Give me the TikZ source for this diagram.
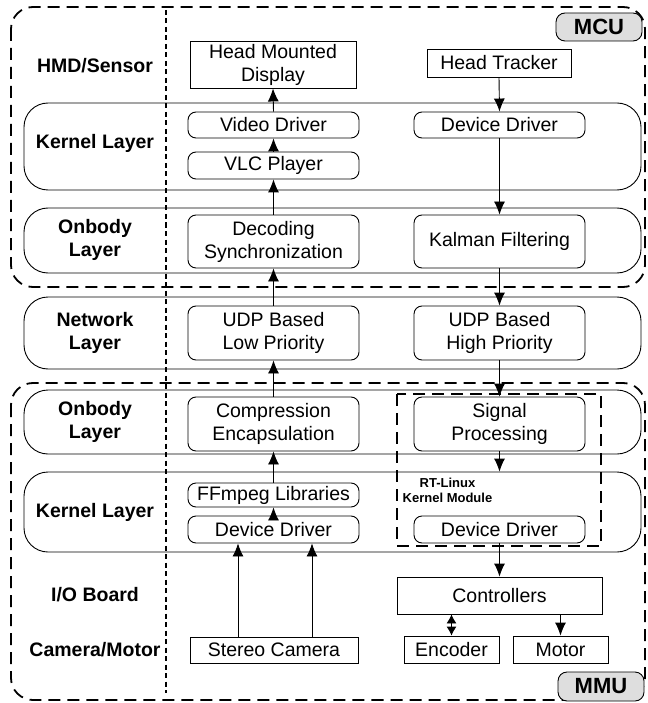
\documentclass[tikz,border=0pt]{standalone}
\usepackage{fontspec}
\setmainfont{Liberation Sans}
\usetikzlibrary{arrows.meta}
\begin{document}
\begin{tikzpicture}[x=1pt,y=-1pt,
  every node/.style={font=\fontsize{19.5}{23}\selectfont, align=center, inner sep=0pt},
  sbox/.style={draw, line width=0.9pt, minimum width=#1},
  rbox/.style={draw, line width=0.9pt, rounded corners=8pt, minimum width=#1},
  layer/.style={draw, line width=0.9pt, rounded corners=24pt, minimum width=617pt},
  lbl/.style={font=\fontsize{19.5}{23}\selectfont\bfseries},
  tag/.style={draw, line width=0.9pt, rounded corners=9pt, fill=black!13, minimum width=86pt, font=\fontsize{22}{24}\selectfont\bfseries},
  outer/.style={draw, line width=1.8pt, dash pattern=on 12pt off 7pt, rounded corners=22pt},
  arr/.style={line width=0.9pt, -{Latex[length=13pt,width=11pt]}},
  darr/.style={line width=0.9pt, {Latex[length=9pt,width=10pt]}-{Latex[length=9pt,width=10pt]}}
]
\useasboundingbox (0,0) rectangle (647,703);

% outer dashed regions
\draw[outer] (11,7) rectangle (645,287);
\draw[outer] (11,383) rectangle (645,700);
% vertical divider
\draw[line width=1.3pt, dash pattern=on 5pt off 3.5pt] (166,10) -- (166,693);

% layer boxes
\node[layer, minimum height=87pt] (kern1) at (332.5,146.5) {};
\node[layer, minimum height=65pt] (onb1) at (332.5,240.5) {};
\node[layer, minimum height=72pt] (net) at (332.5,333) {};
\node[layer, minimum height=64pt] (onb2) at (332.5,422) {};
\node[layer, minimum height=80pt] (kern2) at (332.5,512) {};

% RT-Linux dashed box
\draw[line width=1.8pt, dash pattern=on 12pt off 7pt] (397,394) rectangle (601,546);
\node[font=\fontsize{13}{15}\selectfont\bfseries] (rtl) at (447.5,490.5) {RT-Linux\\Kernel Module};

% tags
\node[tag, minimum height=28pt] (mcu) at (599,27) {MCU};
\node[tag, minimum height=29pt] (mmu) at (601,686.5) {MMU};

% left labels
\node[lbl] (l1) at (95,66) {HMD/Sensor};
\node[lbl] (l2) at (95,143) {Kernel Layer};
\node[lbl] (l3) at (95,240) {Onbody\\Layer};
\node[lbl] (l4) at (95,333) {Network\\Layer};
\node[lbl] (l5) at (95,422) {Onbody\\Layer};
\node[lbl] (l6) at (95,512) {Kernel Layer};
\node[lbl] (l7) at (95,595) {I/O Board};
\node[lbl] (l8) at (95,650) {Camera/Motor};

% component boxes
\node[sbox=166pt, minimum height=47pt] (hmd) at (273,64.5) {Head Mounted\\Display};
\node[sbox=144pt, minimum height=28pt] (ht) at (499,63) {Head Tracker};
\node[rbox=171pt, minimum height=26pt] (vd) at (273.5,125) {Video Driver};
\node[rbox=171pt, minimum height=27pt] (vlc) at (273.5,165.5) {VLC Player};
\node[rbox=171pt, minimum height=26pt] (dd1) at (499.5,125) {Device Driver};
\node[rbox=171pt, minimum height=53pt] (dec) at (273.5,241.5) {Decoding\\Synchronization};
\node[rbox=171pt, minimum height=53pt] (kal) at (499.5,241.5) {Kalman Filtering};
\node[rbox=171pt, minimum height=54pt] (udpl) at (273.5,333) {UDP Based\\Low Priority};
\node[rbox=171pt, minimum height=54pt] (udph) at (499.5,333) {UDP Based\\High Priority};
\node[rbox=171pt, minimum height=54pt] (comp) at (273.5,424) {Compression\\Encapsulation};
\node[rbox=171pt, minimum height=54pt] (sig) at (499.5,424) {Signal\\Processing};
\node[rbox=171pt, minimum height=24pt] (ff) at (273.5,495) {FFmpeg Libraries};
\node[rbox=171pt, minimum height=27pt] (dd2) at (273.5,529.5) {Device Driver};
\node[rbox=171pt, minimum height=27pt] (dd3) at (499.5,529.5) {Device Driver};
\node[sbox=205pt, minimum height=37pt] (ctl) at (499.5,595.5) {Controllers};
\node[sbox=95pt, minimum height=27pt] (enc) at (451.5,649.5) {Encoder};
\node[sbox=95pt, minimum height=27pt] (mot) at (560.5,649.5) {Motor};
\node[sbox=168pt, minimum height=26pt] (cam) at (274,650) {Stereo Camera};

% connectors, left column (upwards)
\draw[arr] (vd.north) -- (hmd.south);
\draw[arr] (vlc.north) -- (vd.south);
\draw[arr] (dec.north) -- (vlc.south);
\draw[arr] (udpl.north) -- (dec.south);
\draw[arr] (comp.north) -- (udpl.south);
\draw[arr] (ff.north) -- (comp.south);
\draw[arr] (dd2.north) -- (ff.south);
\draw[arr] ([xshift=-36pt]cam.north) -- ([xshift=-35.5pt]dd2.south);
\draw[arr] ([xshift=38pt]cam.north) -- ([xshift=38.5pt]dd2.south);

% right column (downwards)
\draw[arr] (ht.south) -- (dd1.north);
\draw[arr] (dd1.south) -- (kal.north);
\draw[arr] (kal.south) -- (udph.north);
\draw[arr] (udph.south) -- (sig.north);
\draw[arr] (sig.south) -- (sig.south |- kern2.north);
\draw[arr] (dd3.south) -- (ctl.north);
\draw[darr] (ctl.south -| enc.north) -- (enc.north);
\draw[arr] (ctl.south -| mot.north) -- (mot.north);
\end{tikzpicture}
\end{document}
